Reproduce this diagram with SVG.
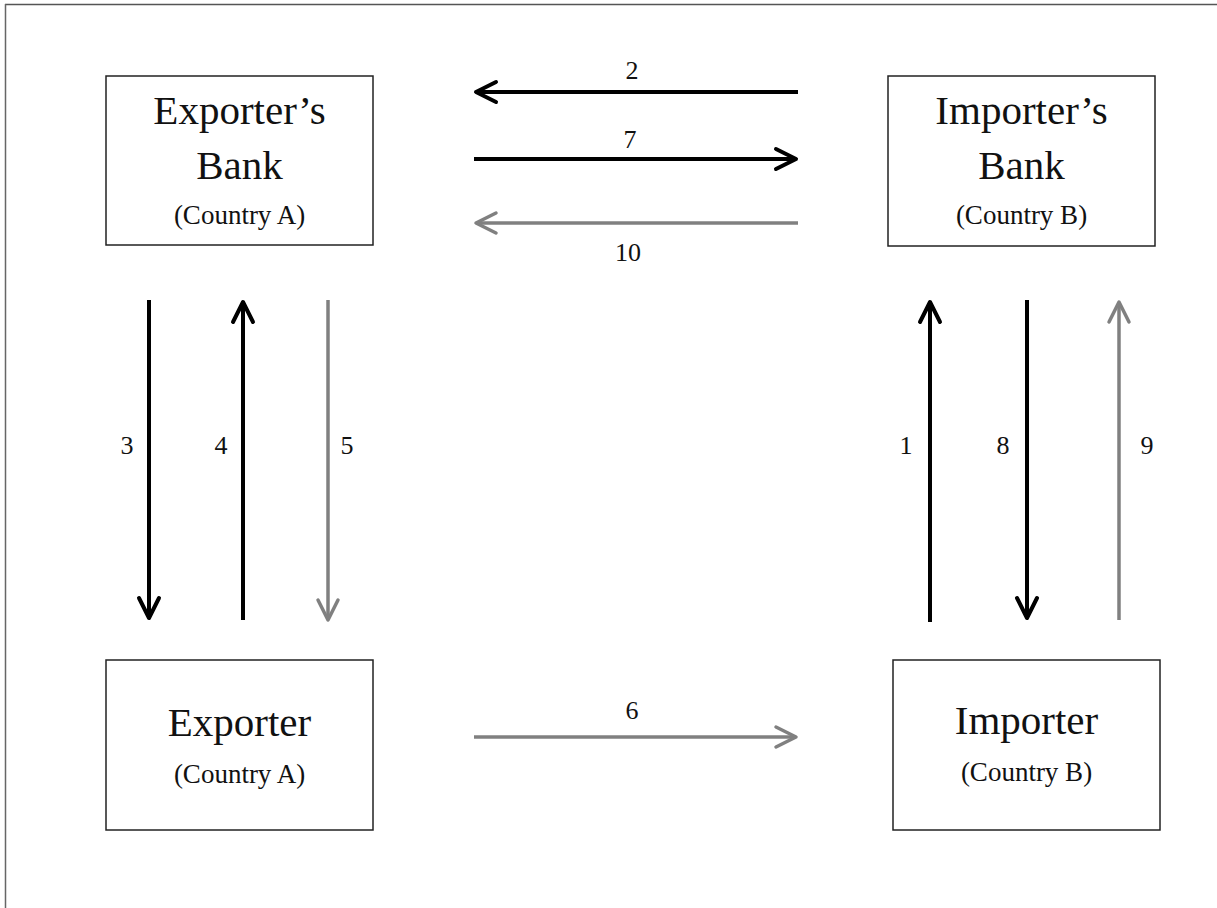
<svg xmlns="http://www.w3.org/2000/svg" width="1217" height="908" viewBox="0 0 1217 908">
<style>
.box{fill:#fff;stroke:#222;stroke-width:1.5}
.t{font-family:"Liberation Serif","Times New Roman",serif;fill:#111;text-anchor:middle}
.big{font-size:41px}
.sm{font-size:27px}
.num{font-size:26px}
.blk{stroke:#000;stroke-width:4;fill:none}
.gry{stroke:#808080;stroke-width:3.5;fill:none}
</style>
<defs>
<marker id="ab" viewBox="-24 -13 28 26" refX="0" refY="0" markerWidth="28" markerHeight="26" markerUnits="userSpaceOnUse" orient="auto" overflow="visible">
<path d="M-20,-10 L0,0 L-20,10" fill="none" stroke="#000" stroke-width="4" stroke-linecap="round" stroke-linejoin="round"/>
</marker>
<marker id="ag" viewBox="-24 -13 28 26" refX="0" refY="0" markerWidth="28" markerHeight="26" markerUnits="userSpaceOnUse" orient="auto" overflow="visible">
<path d="M-20,-10 L0,0 L-20,10" fill="none" stroke="#808080" stroke-width="3.5" stroke-linecap="round" stroke-linejoin="round"/>
</marker>
</defs>
<rect width="1217" height="908" fill="#fff"/>
<g id="frame">
<line x1="5" y1="4.5" x2="1217" y2="4.5" stroke="#555" stroke-width="1.5"/>
<line x1="5.5" y1="4" x2="5.5" y2="908" stroke="#666" stroke-width="1.5"/>
</g>
<g id="exporters-bank">
<rect class="box" x="106" y="76" width="267" height="169"/>
<text class="t big" x="239.5" y="124">Exporter’s</text>
<text class="t big" x="239.5" y="179">Bank</text>
<text class="t sm" x="239.5" y="224">(Country A)</text>
</g>
<g id="importers-bank">
<rect class="box" x="888" y="76" width="267" height="170"/>
<text class="t big" x="1021.5" y="124">Importer’s</text>
<text class="t big" x="1021.5" y="179">Bank</text>
<text class="t sm" x="1021.5" y="224">(Country B)</text>
</g>
<g id="exporter">
<rect class="box" x="106" y="660" width="267" height="170"/>
<text class="t big" x="239.5" y="736">Exporter</text>
<text class="t sm" x="239.5" y="783">(Country A)</text>
</g>
<g id="importer">
<rect class="box" x="893" y="660" width="267" height="170"/>
<text class="t big" x="1026.5" y="734">Importer</text>
<text class="t sm" x="1026.5" y="781">(Country B)</text>
</g>
<g id="connectors">
<line class="blk" x1="798" y1="92" x2="476" y2="92" marker-end="url(#ab)"/>
<line class="blk" x1="474" y1="159" x2="796" y2="159" marker-end="url(#ab)"/>
<line class="gry" x1="798" y1="223" x2="476" y2="223" marker-end="url(#ag)"/>
<line class="gry" x1="474" y1="737" x2="796" y2="737" marker-end="url(#ag)"/>
<line class="blk" x1="149" y1="300" x2="149" y2="618" marker-end="url(#ab)"/>
<line class="blk" x1="243" y1="620" x2="243" y2="302" marker-end="url(#ab)"/>
<line class="gry" x1="328" y1="300" x2="328" y2="620" marker-end="url(#ag)"/>
<line class="blk" x1="930" y1="622" x2="930" y2="302" marker-end="url(#ab)"/>
<line class="blk" x1="1027" y1="300" x2="1027" y2="618" marker-end="url(#ab)"/>
<line class="gry" x1="1119" y1="620" x2="1119" y2="302" marker-end="url(#ag)"/>
<text class="t num" x="632" y="79">2</text>
<text class="t num" x="630" y="148">7</text>
<text class="t num" x="628" y="261">10</text>
<text class="t num" x="632" y="719">6</text>
<text class="t num" x="127" y="454">3</text>
<text class="t num" x="221" y="454">4</text>
<text class="t num" x="347" y="454">5</text>
<text class="t num" x="906" y="454">1</text>
<text class="t num" x="1003" y="454">8</text>
<text class="t num" x="1147" y="454">9</text>
</g>
</svg>
